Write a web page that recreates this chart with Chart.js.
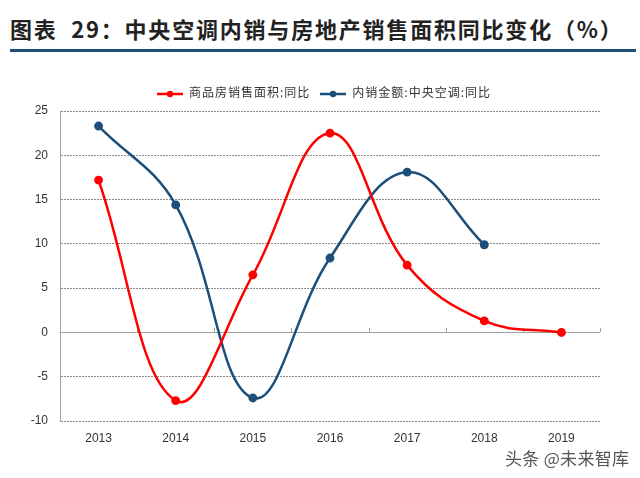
<!DOCTYPE html>
<html><head><meta charset="utf-8">
<script src="https://cdn.jsdelivr.net/npm/chart.js@4/dist/chart.umd.min.js"></script>
<style>
html,body{margin:0;padding:0;background:#fff;}
#wrap{position:relative;width:640px;height:478px;overflow:hidden;background:#fff;}
#title{position:absolute;left:10px;top:13px;font-family:"Noto Sans CJK SC","Noto Sans",sans-serif;font-weight:bold;font-size:22px;color:#222;letter-spacing:1.8px;white-space:nowrap;line-height:30px;}
#rule{position:absolute;left:10px;top:49px;width:626px;height:3px;background:#1f4e79;}
#legend{position:absolute;top:84px;left:157px;font-family:"Noto Sans CJK SC",sans-serif;font-size:12px;letter-spacing:1px;color:#333;white-space:nowrap;line-height:16px;}
#legend span.item{display:inline-block;margin-right:10px;}
#legend svg{vertical-align:middle;margin-right:6px;}
#wm{position:absolute;left:505px;top:445px;font-family:"Noto Sans CJK SC",sans-serif;font-size:17px;letter-spacing:0.3px;color:#555;white-space:nowrap;}
canvas{position:absolute;left:0;top:0;}
</style></head>
<body>
<div id="wrap">
<div id="title">图表&nbsp;&nbsp;29：中央空调内销与房地产销售面积同比变化（%）</div>
<div id="rule"></div>
<canvas id="c" width="640" height="478"></canvas>
<div id="legend"></div>
<div id="wm">头条 @未来智库</div>
</div>
<script>
const categories = ['2013','2014','2015','2016','2017','2018','2019'];
const seriesNames = ['商品房销售面积:同比','内销金额:中央空调:同比'];
const houseSalesArea = [17.2, -7.7, 6.5, 22.5, 7.6, 1.3, 0.0];
const centralACDomestic = [23.3, 14.4, -7.4, 8.4, 18.1, 9.9, null];
const yTicks = [25, 20, 15, 10, 5, 0, -5, -10];
const colors = ['#ff0000', '#1b4f79'];

const lg = document.getElementById('legend');
seriesNames.forEach((n, i) => {
  const s = document.createElement('span'); s.className = 'item';
  s.innerHTML = '<svg width="26" height="8"><line x1="0" y1="4" x2="26" y2="4" stroke="' + colors[i] + '" stroke-width="2.5"/><circle cx="13" cy="4" r="3.2" fill="' + colors[i] + '"/></svg>' + n;
  lg.appendChild(s);
});

const extras = {
  id: 'extras',
  beforeDatasetsDraw(chart) {
    const {ctx, chartArea, scales} = chart;
    const y0 = scales.y.getPixelForValue(0);
    ctx.save();
    ctx.strokeStyle = '#a0a0a0';
    ctx.lineWidth = 1;
    ctx.setLineDash([]);
    ctx.beginPath();
    ctx.moveTo(chartArea.left, Math.round(y0) + 0.5);
    ctx.lineTo(chartArea.right, Math.round(y0) + 0.5);
    for (let i = 0; i < categories.length; i++) {
      const x = i < categories.length - 1
        ? (scales.x.getPixelForValue(i) + scales.x.getPixelForValue(i + 1)) / 2
        : chartArea.right;
      ctx.moveTo(Math.round(x) + 0.5, Math.round(y0));
      ctx.lineTo(Math.round(x) + 0.5, Math.round(y0) - 4);
    }
    ctx.stroke();
    ctx.restore();
  }
};

new Chart(document.getElementById('c'), {
  type: 'line',
  data: {
    labels: categories,
    datasets: [
      {label: seriesNames[0], data: houseSalesArea, borderColor: colors[0], backgroundColor: colors[0],
       borderWidth: 2.5, pointRadius: 3.2, pointHoverRadius: 3.2, tension: 0.4, fill: false},
      {label: seriesNames[1], data: centralACDomestic, borderColor: colors[1], backgroundColor: colors[1],
       borderWidth: 2.5, pointRadius: 3.2, pointHoverRadius: 3.2, tension: 0.4, fill: false, spanGaps: false}
    ]
  },
  options: {
    responsive: false,
    animation: false,
    events: [],
    layout: {padding: {top: 111, left: 0, right: 40, bottom: 0}},
    plugins: {legend: {display: false}, tooltip: {enabled: false}, title: {display: false}},
    scales: {
      x: {
        offset: true,
        grid: {display: false, drawTicks: false},
        border: {display: false},
        ticks: {color: '#333', font: {family: 'Liberation Sans, Arial, sans-serif', size: 12}, padding: 10, maxRotation: 0},
        afterFit(s) { s.height = 57; }
      },
      y: {
        min: -10, max: 25,
        afterBuildTicks(s) { s.ticks = yTicks.map(v => ({value: v})); },
        grid: {color: '#8c8c8c', lineWidth: 1, drawTicks: false},
        border: {display: true, color: '#a0a0a0', width: 1, dash: [2, 1]},
        ticks: {color: '#333', font: {family: 'Liberation Sans, Arial, sans-serif', size: 12}, padding: 12},
        afterFit(s) { s.width = 60; }
      }
    }
  },
  plugins: [extras]
});
</script>
</body></html>
